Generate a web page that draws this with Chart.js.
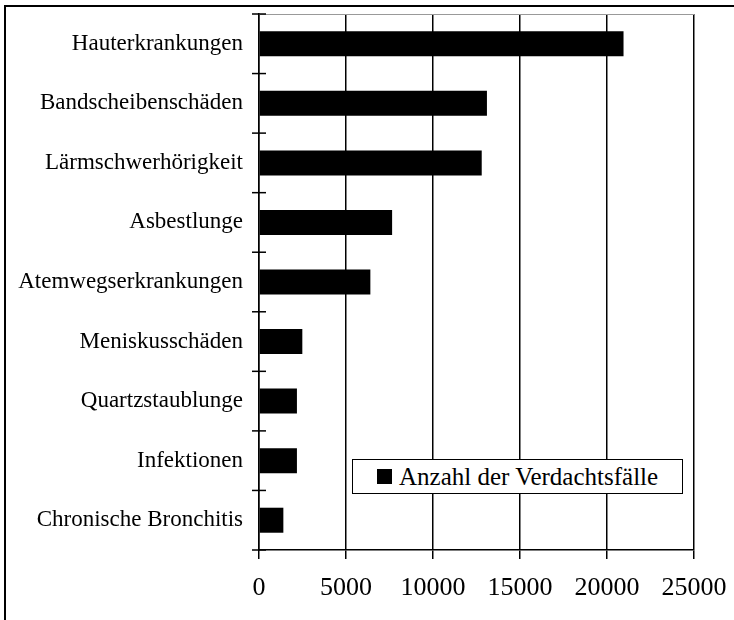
<!DOCTYPE html>
<html>
<head>
<meta charset="utf-8">
<script src="https://cdn.jsdelivr.net/npm/chart.js@4.4.1/dist/chart.umd.min.js"></script>
<style>
  html, body { margin: 0; padding: 0; background: #fff; }
  #wrap { position: relative; width: 734px; height: 620px; }
  #frame { position: absolute; left: 4px; top: 5px; right: 0; bottom: 0;
           border-top: 2px solid #000; border-left: 2px solid #000; pointer-events: none; }
  #legend { position: absolute; left: 352px; top: 459px; width: 329px; height: 33px;
            border: 1.5px solid #000; background: #fff; box-sizing: content-box;
            font: 25px 'Liberation Serif', 'Times New Roman', serif; color: #000;
            display: flex; align-items: center; }
  #legend .box { width: 15px; height: 15px; background: #000; margin-left: 24px; margin-right: 7px; }
</style>
</head>
<body>
<div id="wrap">
  <canvas id="chart" width="734" height="620"></canvas>
  <div id="frame"></div>
  <div id="legend"></div>
</div>
<script>
const categories = [
    'Hauterkrankungen', 'Bandscheibenschäden', 'Lärmschwerhörigkeit', 'Asbestlunge',
    'Atemwegserkrankungen', 'Meniskusschäden', 'Quartzstaublunge', 'Infektionen',
    'Chronische Bronchitis'
];
const seriesLabel = 'Anzahl der Verdachtsfälle';
const values = [20950, 13100, 12800, 7650, 6400, 2490, 2180, 2180, 1400];
const xTickValues = [0, 5000, 10000, 15000, 20000, 25000];

const serif = "'Liberation Serif', 'Times New Roman', serif";

// ticks on the category axis cross the axis line, plus a thin top edge
const crossTicks = {
    id: 'crossTicks',
    afterDraw(chart) {
        const ctx = chart.ctx;
        const y = chart.scales.y;
        const area = chart.chartArea;
        const step = (y.bottom - y.top) / categories.length;
        ctx.save();
        ctx.strokeStyle = '#999';
        ctx.lineWidth = 1;
        ctx.beginPath();
        ctx.moveTo(area.left, area.top + 0.5);
        ctx.lineTo(area.right, area.top + 0.5);
        ctx.stroke();
        ctx.strokeStyle = '#000';
        ctx.lineWidth = 1.5;
        for (let i = 0; i <= categories.length; i++) {
            const py = y.top + i * step;
            ctx.beginPath();
            ctx.moveTo(y.right - 7, py);
            ctx.lineTo(y.right + 7, py);
            ctx.stroke();
        }
        ctx.restore();
    }
};

const chart = new Chart(document.getElementById('chart'), {
    type: 'bar',
    data: {
        labels: categories,
        datasets: [{
            label: seriesLabel,
            data: values,
            backgroundColor: '#000',
            borderWidth: 0,
            barPercentage: 0.42,
            categoryPercentage: 1
        }]
    },
    options: {
        indexAxis: 'y',
        responsive: false,
        animation: false,
        layout: { padding: { left: 0, right: 40, top: 14, bottom: 0 } },
        plugins: { legend: { display: false }, tooltip: { enabled: false } },
        scales: {
            x: {
                min: 0,
                max: 25000,
                afterBuildTicks(scale) {
                    scale.ticks = xTickValues.map(v => ({ value: v }));
                },
                afterFit(scale) {
                    scale.height = 70;
                    scale.paddingLeft = 0;
                    scale.paddingRight = 0;
                },
                grid: { color: '#000', lineWidth: 1.5, tickLength: 9 },
                border: { color: '#000', width: 1.5 },
                ticks: {
                    color: '#000',
                    font: { family: serif, size: 26 },
                    padding: 14,
                    maxRotation: 0,
                    callback: v => String(v)
                }
            },
            y: {
                afterFit(scale) {
                    scale.width = 259;
                    scale.paddingTop = 0;
                    scale.paddingBottom = 0;
                },
                grid: { display: false, drawTicks: false },
                border: { color: '#000', width: 1.5 },
                ticks: {
                    color: '#000',
                    font: { family: serif, size: 23 },
                    padding: 16
                }
            }
        }
    },
    plugins: [crossTicks]
});

document.getElementById('legend').innerHTML =
    '<span class="box"></span><span>' + chart.data.datasets[0].label + '</span>';
</script>
</body>
</html>
